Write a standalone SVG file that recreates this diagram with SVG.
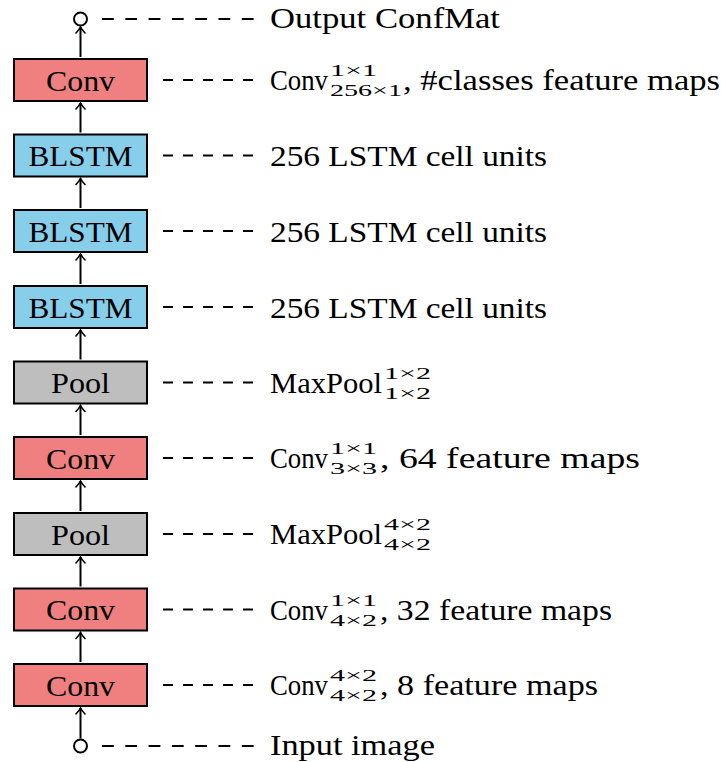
<svg xmlns="http://www.w3.org/2000/svg" width="721" height="762" viewBox="0 0 721 762">
<style>
.box{stroke:#000;stroke-width:2}
.conv{fill:#F08080}
.lstm{fill:#87CEEB}
.pool{fill:#BEBEBE}
text{font-family:'Liberation Serif','DejaVu Serif',serif;fill:#000}
.bt{font-size:29px;text-anchor:middle}
.t{font-size:29px}
.s{font-size:17px}
.arr{stroke:#000;stroke-width:2;fill:none;marker-end:url(#ah)}
.d5{stroke:#000;stroke-width:2;stroke-dasharray:10 10}
.d7{stroke:#000;stroke-width:2;stroke-dasharray:11.8 11.5}
.io{fill:#fff;stroke:#000;stroke-width:2}
</style>
<defs>
<marker id="ah" markerUnits="userSpaceOnUse" markerWidth="12" markerHeight="12" viewBox="-8 -6 10 12" refX="0" refY="0" orient="auto">
<path d="M-6,-4.5 Q-2.5,-1.2 0,0 Q-2.5,1.2 -6,4.5" fill="none" stroke="#000" stroke-width="1.6" stroke-linecap="round"/>
</marker>
</defs>

<g id="connectors">
<line class="arr" x1="80.5" y1="57" x2="80.5" y2="27"/>
<line class="arr" x1="80.5" y1="132.5" x2="80.5" y2="103"/>
<line class="arr" x1="80.5" y1="208" x2="80.5" y2="178.5"/>
<line class="arr" x1="80.5" y1="284" x2="80.5" y2="254"/>
<line class="arr" x1="80.5" y1="359.5" x2="80.5" y2="330"/>
<line class="arr" x1="80.5" y1="435" x2="80.5" y2="405.5"/>
<line class="arr" x1="80.5" y1="511" x2="80.5" y2="481"/>
<line class="arr" x1="80.5" y1="586.5" x2="80.5" y2="557"/>
<line class="arr" x1="80.5" y1="662" x2="80.5" y2="632.5"/>
<line class="arr" x1="80.5" y1="738.5" x2="80.5" y2="708"/>
<line class="d7" x1="102" y1="19" x2="255" y2="19"/>
<line class="d5" x1="163" y1="80" x2="253" y2="80"/>
<line class="d5" x1="163" y1="155.5" x2="253" y2="155.5"/>
<line class="d5" x1="163" y1="231" x2="253" y2="231"/>
<line class="d5" x1="163" y1="307" x2="253" y2="307"/>
<line class="d5" x1="163" y1="382.5" x2="253" y2="382.5"/>
<line class="d5" x1="163" y1="458" x2="253" y2="458"/>
<line class="d5" x1="163" y1="534" x2="253" y2="534"/>
<line class="d5" x1="163" y1="609.5" x2="253" y2="609.5"/>
<line class="d5" x1="163" y1="685" x2="253" y2="685"/>
<line class="d7" x1="102" y1="746" x2="255" y2="746"/>
</g>

<g id="output">
<circle class="io" cx="80.5" cy="19" r="6.5"/>
<text class="t" x="270" y="28" textLength="230" lengthAdjust="spacingAndGlyphs">Output ConfMat</text>
</g>

<g id="conv5">
<rect class="box conv" x="14" y="59" width="133" height="42"/>
<text class="bt" x="80.5" y="90.5" textLength="69" lengthAdjust="spacingAndGlyphs">Conv</text>
<text class="t" x="270" y="90" textLength="58" lengthAdjust="spacingAndGlyphs">Conv</text>
<text class="s" x="330" y="76" textLength="47" lengthAdjust="spacingAndGlyphs">1×1</text>
<text class="s" x="330" y="96" textLength="72" lengthAdjust="spacingAndGlyphs">256×1</text>
<text class="t" x="403" y="90" textLength="317" lengthAdjust="spacingAndGlyphs">, #classes feature maps</text>
</g>

<g id="blstm3">
<rect class="box lstm" x="14" y="134.5" width="133" height="42"/>
<text class="bt" x="80.5" y="166" textLength="104" lengthAdjust="spacingAndGlyphs">BLSTM</text>
<text class="t" x="270" y="166" textLength="277" lengthAdjust="spacingAndGlyphs">256 LSTM cell units</text>
</g>

<g id="blstm2">
<rect class="box lstm" x="14" y="210" width="133" height="42"/>
<text class="bt" x="80.5" y="241.5" textLength="104" lengthAdjust="spacingAndGlyphs">BLSTM</text>
<text class="t" x="270" y="241.5" textLength="277" lengthAdjust="spacingAndGlyphs">256 LSTM cell units</text>
</g>

<g id="blstm1">
<rect class="box lstm" x="14" y="286" width="133" height="42"/>
<text class="bt" x="80.5" y="317.5" textLength="104" lengthAdjust="spacingAndGlyphs">BLSTM</text>
<text class="t" x="270" y="317.5" textLength="277" lengthAdjust="spacingAndGlyphs">256 LSTM cell units</text>
</g>

<g id="pool2">
<rect class="box pool" x="14" y="361.5" width="133" height="42"/>
<text class="bt" x="80.5" y="393" textLength="59" lengthAdjust="spacingAndGlyphs">Pool</text>
<text class="t" x="270" y="392.5" textLength="112" lengthAdjust="spacingAndGlyphs">MaxPool</text>
<text class="s" x="384" y="378.5" textLength="47" lengthAdjust="spacingAndGlyphs">1×2</text>
<text class="s" x="384" y="398.5" textLength="47" lengthAdjust="spacingAndGlyphs">1×2</text>
</g>

<g id="conv4">
<rect class="box conv" x="14" y="437" width="133" height="42"/>
<text class="bt" x="80.5" y="468.5" textLength="69" lengthAdjust="spacingAndGlyphs">Conv</text>
<text class="t" x="270" y="468" textLength="58" lengthAdjust="spacingAndGlyphs">Conv</text>
<text class="s" x="330" y="454" textLength="47" lengthAdjust="spacingAndGlyphs">1×1</text>
<text class="s" x="330" y="474" textLength="47" lengthAdjust="spacingAndGlyphs">3×3</text>
<text class="t" x="380" y="468" textLength="260" lengthAdjust="spacingAndGlyphs">, 64 feature maps</text>
</g>

<g id="pool1">
<rect class="box pool" x="14" y="513" width="133" height="42"/>
<text class="bt" x="80.5" y="544.5" textLength="59" lengthAdjust="spacingAndGlyphs">Pool</text>
<text class="t" x="270" y="544" textLength="112" lengthAdjust="spacingAndGlyphs">MaxPool</text>
<text class="s" x="384" y="530" textLength="47" lengthAdjust="spacingAndGlyphs">4×2</text>
<text class="s" x="384" y="550" textLength="47" lengthAdjust="spacingAndGlyphs">4×2</text>
</g>

<g id="conv2">
<rect class="box conv" x="14" y="588.5" width="133" height="42"/>
<text class="bt" x="80.5" y="620" textLength="69" lengthAdjust="spacingAndGlyphs">Conv</text>
<text class="t" x="270" y="619.5" textLength="58" lengthAdjust="spacingAndGlyphs">Conv</text>
<text class="s" x="330" y="605.5" textLength="47" lengthAdjust="spacingAndGlyphs">1×1</text>
<text class="s" x="330" y="625.5" textLength="47" lengthAdjust="spacingAndGlyphs">4×2</text>
<text class="t" x="380" y="619.5" textLength="232" lengthAdjust="spacingAndGlyphs">, 32 feature maps</text>
</g>

<g id="conv1">
<rect class="box conv" x="14" y="664" width="133" height="42"/>
<text class="bt" x="80.5" y="695.5" textLength="69" lengthAdjust="spacingAndGlyphs">Conv</text>
<text class="t" x="270" y="695" textLength="58" lengthAdjust="spacingAndGlyphs">Conv</text>
<text class="s" x="330" y="681" textLength="47" lengthAdjust="spacingAndGlyphs">4×2</text>
<text class="s" x="330" y="701" textLength="47" lengthAdjust="spacingAndGlyphs">4×2</text>
<text class="t" x="380" y="695" textLength="218" lengthAdjust="spacingAndGlyphs">, 8 feature maps</text>
</g>

<g id="input">
<circle class="io" cx="80.5" cy="746" r="6.5"/>
<text class="t" x="270" y="754.5" textLength="165" lengthAdjust="spacingAndGlyphs">Input image</text>
</g>
</svg>
